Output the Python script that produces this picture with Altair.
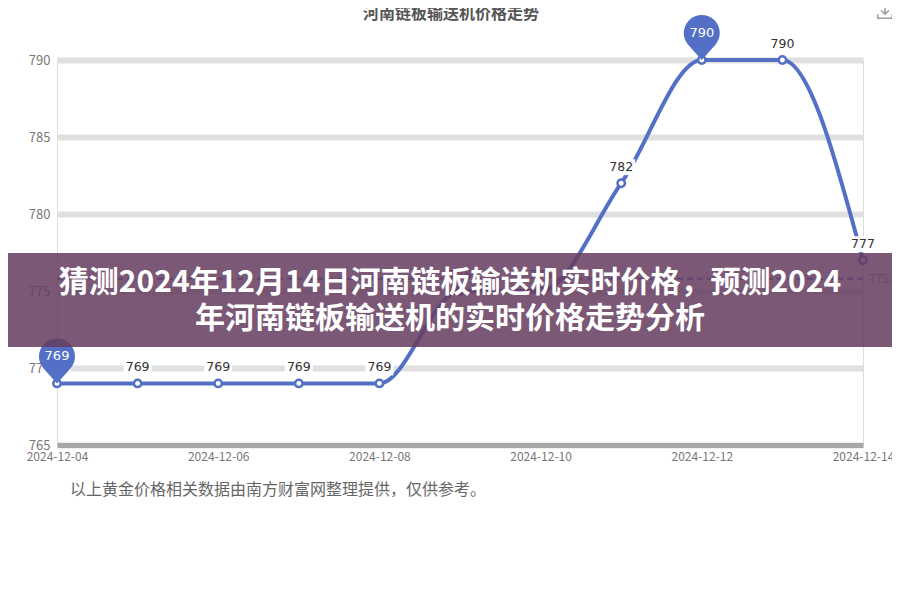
import altair as alt
import pandas as pd

# ---- data ----
dates = ["2024-12-04", "2024-12-05", "2024-12-06", "2024-12-07", "2024-12-08",
         "2024-12-09", "2024-12-10", "2024-12-11", "2024-12-12", "2024-12-13",
         "2024-12-14"]
prices = [769, 769, 769, 769, 769, 775, 775, 782, 790, 790, 777]
y_ticks = [765, 770, 775, 780, 785, 790]
x_label_values = dates[::2]

chart_title = "河南链板输送机价格走势"
banner_line1 = "猜测2024年12月14日河南链板输送机实时价格，预测2024"
banner_line2 = "年河南链板输送机的实时价格走势分析"
footnote = "以上黄金价格相关数据由南方财富网整理提供，仅供参考。"

df = pd.DataFrame({"date": dates, "price": prices})
avg_val = round(sum(prices) / len(prices), 1)
avg_df = pd.DataFrame({"avg": [avg_val], "label": [f"{avg_val}"]})
i_max = prices.index(max(prices))
i_min = prices.index(min(prices))
pins_df = pd.DataFrame({"date": [dates[i_max], dates[i_min]],
                        "price": [prices[i_max], prices[i_min]]})

W, H = 806, 385
BLUE = "#5470c6"
FONT = "Noto Sans CJK SC"

x_enc = alt.X("date:O", sort=dates,
              scale=alt.Scale(type="point", padding=0),
              axis=alt.Axis(values=x_label_values, labelAngle=0, ticks=False,
                            domainColor="#a8a8a8", domainWidth=5,
                            labelColor="#777777", labelFontSize=12,
                            labelPadding=6, labelFont=FONT, title=None,
                            grid=False))
y_enc = alt.Y("price:Q",
              scale=alt.Scale(domain=[765, 790], nice=False, zero=False),
              axis=alt.Axis(values=y_ticks, domain=False, ticks=False,
                            gridColor="#e0e0e0", gridWidth=6,
                            labelColor="#777777", labelFontSize=13,
                            labelPadding=7, labelFont=FONT, title=None))

base = alt.Chart(df)

line = base.mark_line(color=BLUE, strokeWidth=4, interpolate="monotone").encode(
    x=x_enc, y=y_enc)

avg_rule = alt.Chart(avg_df).mark_rule(color=BLUE, strokeDash=[6, 4],
                                       strokeWidth=2).encode(
    y=alt.Y("avg:Q", scale=alt.Scale(domain=[765, 790])))
avg_text = alt.Chart(avg_df).mark_text(align="left", baseline="middle",
                                       color="#888888", fontSize=12,
                                       font=FONT).encode(
    x=alt.value(W + 6), y=alt.Y("avg:Q"), text="label:N")

points = base.mark_point(filled=True, fill="white", stroke=BLUE,
                         strokeWidth=2.5, size=55, opacity=1).encode(
    x=x_enc, y=y_enc)

box_shape = "M-1,-0.57L1,-0.57L1,0.57L-1,0.57Z"
label_boxes = base.mark_point(shape=box_shape, filled=True, fill="white",
                              opacity=0.95, size=784, yOffset=-16,
                              strokeWidth=0).encode(x=x_enc, y=y_enc)
labels = base.mark_text(dy=-16, color="#333333", fontSize=12.5,
                        font="DejaVu Sans").encode(
    x=x_enc, y=y_enc, text="price:Q")

pin_shape = "M0,1L-0.596,0.333A0.8,0.8 0 1 1 0.596,0.333Z"
pins = alt.Chart(pins_df).mark_point(shape=pin_shape, filled=True, fill=BLUE,
                                     opacity=1, size=2025, yOffset=-22.5,
                                     strokeWidth=0).encode(x=x_enc, y=y_enc)
pin_text = alt.Chart(pins_df).mark_text(dy=-27, color="white", fontSize=13,
                                        font="DejaVu Sans").encode(
    x=x_enc, y=y_enc, text="price:Q")

# ---- decorations (outside the plot area) ----
deco = pd.DataFrame({"k": [0]})
top_title = alt.Chart(deco).mark_text(text=chart_title, color="#555555",
                                      fontSize=16, fontWeight="bold",
                                      font=FONT, baseline="middle").encode(
    x=alt.value(394), y=alt.value(-46))
icon = alt.Chart(deco).mark_point(
    shape="M0,-1L0,0.4M-0.5,-0.1L0,0.4L0.5,-0.1M-0.9,0.4L-0.9,0.9L0.9,0.9L0.9,0.4",
    filled=False, stroke="#777777", strokeWidth=1.6, size=256).encode(
    x=alt.value(828), y=alt.value(-49))

banner = alt.Chart(deco).mark_rect(color="#643d60", opacity=0.86).encode(
    x=alt.value(-57), x2=alt.value(843), y=alt.value(193), y2=alt.value(287))
b1 = alt.Chart(deco).mark_text(text=banner_line1, color="white", fontSize=30,
                               fontWeight="bold", font=FONT,
                               baseline="middle").encode(
    x=alt.value(393), y=alt.value(223))
b2 = alt.Chart(deco).mark_text(text=banner_line2, color="white", fontSize=30,
                               fontWeight="bold", font=FONT,
                               baseline="middle").encode(
    x=alt.value(393), y=alt.value(259))

foot = alt.Chart(deco).mark_text(text=footnote, color="#666666", fontSize=16,
                                 font=FONT, align="left",
                                 baseline="middle").encode(
    x=alt.value(13), y=alt.value(430))

chart = alt.layer(
    line, avg_rule, avg_text, points, label_boxes, labels, pins, pin_text,
    top_title, icon, banner, b1, b2, foot
).properties(
    width=W, height=H,
    padding={"left": 49, "top": 52, "right": 29, "bottom": 147},
    autosize=alt.AutoSizeParams(type="none"),
).configure_view(stroke=None).configure(background="white")

chart.save("out.html", embed_options={"renderer": "svg", "actions": False})
